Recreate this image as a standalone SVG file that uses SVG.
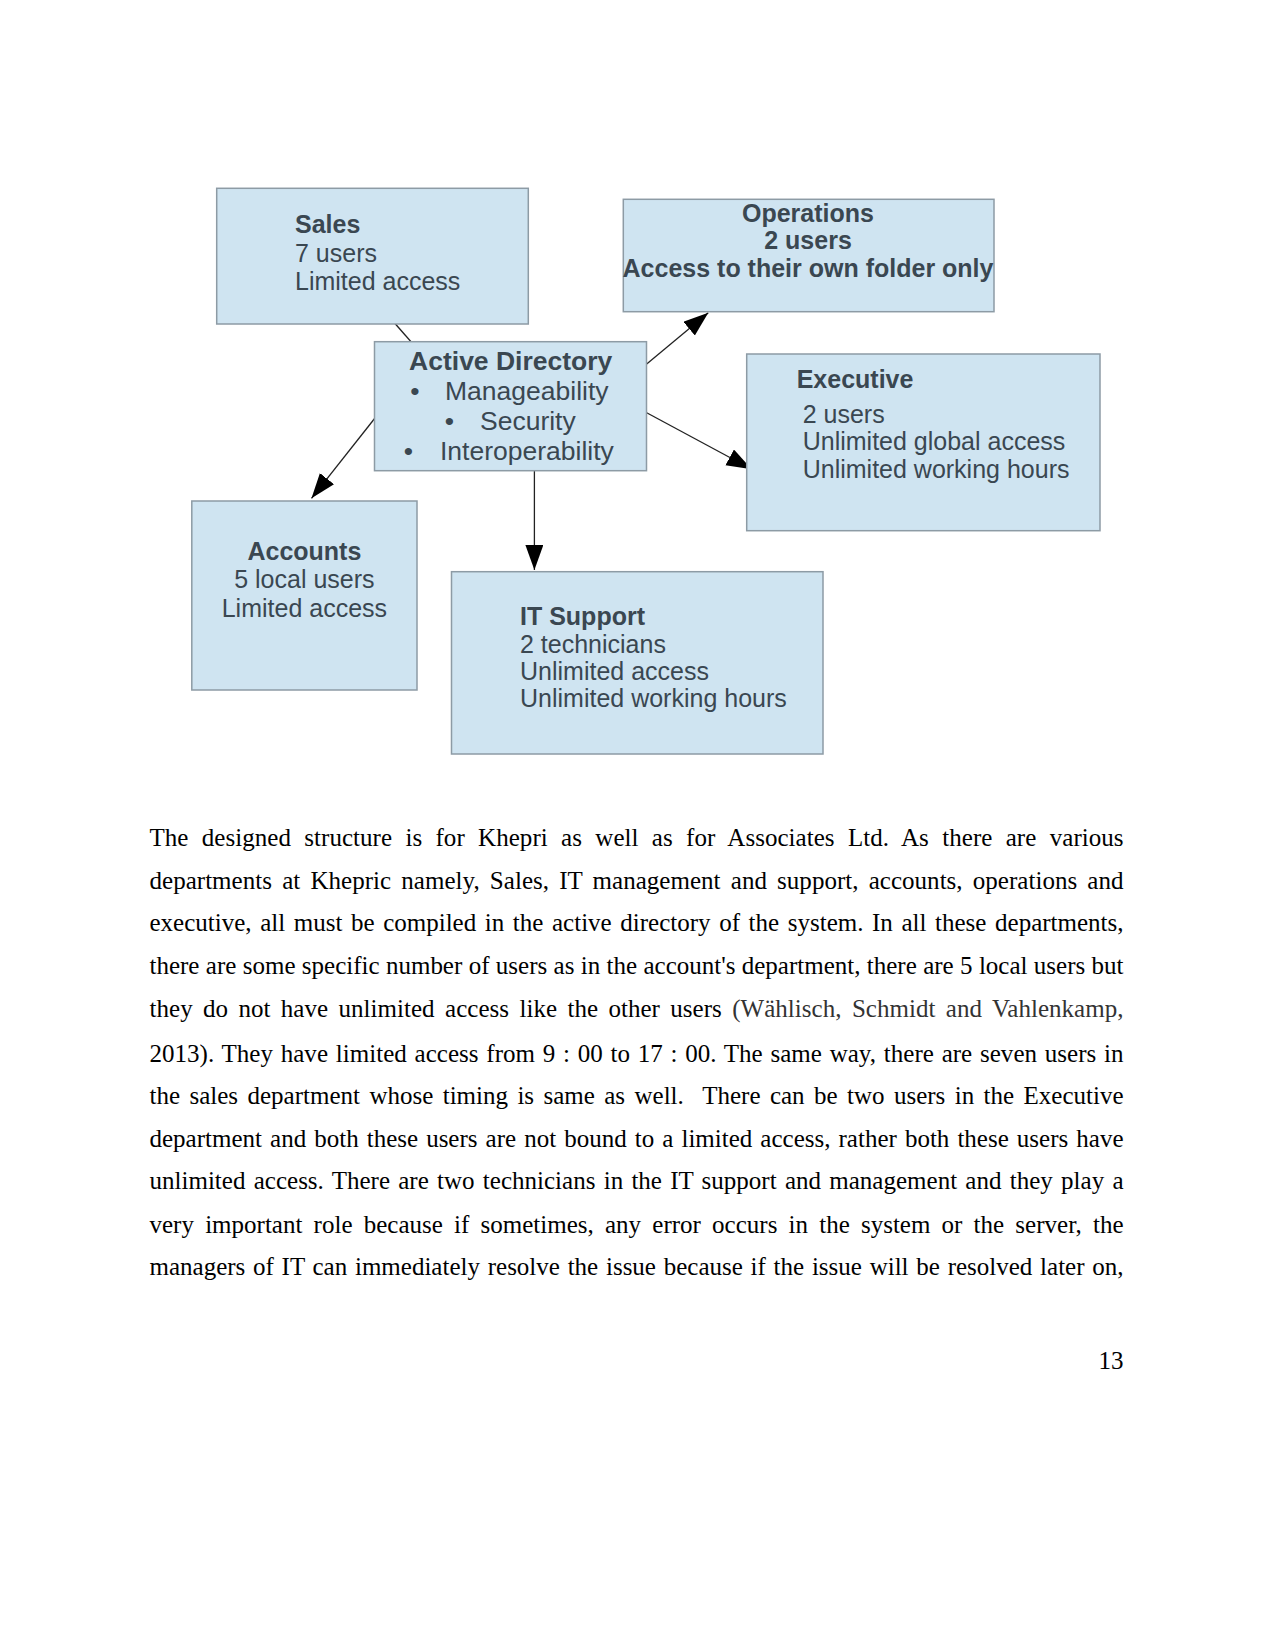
<svg xmlns="http://www.w3.org/2000/svg" width="1275" height="1650" viewBox="0 0 1275 1650">
<style>
.box{fill:#cfe4f1;stroke:#8d9ba5;stroke-width:1.5}
.t{font-family:"Liberation Sans",Arial,sans-serif;fill:#3a4751}
.b{font-weight:bold}
.s25{font-size:25px}
.s26{font-size:26.5px}
.con{stroke:#222;stroke-width:1.3;fill:none}
.p{font-family:"Liberation Serif","Times New Roman",serif;font-size:25px;fill:#000}
</style>
<defs>
<marker id="ah" markerUnits="userSpaceOnUse" markerWidth="28" markerHeight="20" refX="25" refY="9" orient="auto">
<path d="M0,0 L25,9 L0,18 z" fill="#000"/>
</marker>
</defs>
<rect width="1275" height="1650" fill="#fff"/>

<g id="connectors">
<line class="con" x1="395" y1="323.5" x2="411" y2="341.7"/>
<line class="con" x1="646.7" y1="364" x2="708.3" y2="312.7" marker-end="url(#ah)"/>
<line class="con" x1="646.7" y1="412.7" x2="751.7" y2="469.3" marker-end="url(#ah)"/>
<line class="con" x1="375" y1="418" x2="311.5" y2="498.3" marker-end="url(#ah)"/>
<line class="con" x1="534.4" y1="471" x2="534.4" y2="570" marker-end="url(#ah)"/>
</g>

<g id="sales">
<rect class="box" x="216.7" y="188.3" width="311.6" height="135.7"/>
<text class="t s25 b" x="295" y="233.3">Sales</text>
<text class="t s25" x="295" y="261.7">7 users</text>
<text class="t s25" x="295" y="290">Limited access</text>
</g>

<g id="operations">
<rect class="box" x="623.3" y="199.3" width="370.7" height="112.4"/>
<text class="t s25 b" x="808" y="221.7" text-anchor="middle">Operations</text>
<text class="t s25 b" x="808" y="249.3" text-anchor="middle">2 users</text>
<text class="t s25 b" x="808" y="277.3" text-anchor="middle">Access to their own folder only</text>
</g>

<g id="active-directory">
<rect class="box" x="374.5" y="341.7" width="272" height="129"/>
<text class="t s26 b" x="510.7" y="370" text-anchor="middle">Active Directory</text>
<text class="t s26" x="415" y="400" text-anchor="middle">•</text>
<text class="t s26" x="445" y="400">Manageability</text>
<text class="t s26" x="449.3" y="430" text-anchor="middle">•</text>
<text class="t s26" x="480" y="430">Security</text>
<text class="t s26" x="408.3" y="460" text-anchor="middle">•</text>
<text class="t s26" x="440" y="460">Interoperability</text>
</g>

<g id="executive">
<rect class="box" x="746.7" y="354" width="353.3" height="176.7"/>
<text class="t s25 b" x="796.7" y="388.3">Executive</text>
<text class="t s25" x="802.7" y="422.7">2 users</text>
<text class="t s25" x="802.7" y="450">Unlimited global access</text>
<text class="t s25" x="802.7" y="478.3">Unlimited working hours</text>
</g>

<g id="accounts">
<rect class="box" x="191.8" y="501" width="225.2" height="189"/>
<text class="t s25 b" x="304.4" y="560" text-anchor="middle">Accounts</text>
<text class="t s25" x="304.4" y="588.3" text-anchor="middle">5 local users</text>
<text class="t s25" x="304.4" y="616.7" text-anchor="middle">Limited access</text>
</g>

<g id="it-support">
<rect class="box" x="451.5" y="571.7" width="371.5" height="182.3"/>
<text class="t s25 b" x="520" y="625">IT Support</text>
<text class="t s25" x="520" y="652.7">2 technicians</text>
<text class="t s25" x="520" y="680">Unlimited access</text>
<text class="t s25" x="520" y="706.7">Unlimited working hours</text>
</g>

<g id="body-text">
<text class="p" x="149.5" y="845.8" word-spacing="7.07" textLength="974" lengthAdjust="spacing">The designed structure is for Khepri as well as for Associates Ltd. As there are various</text>
<text class="p" x="149.5" y="888.5" word-spacing="3.9" textLength="974" lengthAdjust="spacing">departments at Khepric namely, Sales, IT management and support, accounts, operations and</text>
<text class="p" x="149.5" y="930.8" word-spacing="2.35" textLength="974" lengthAdjust="spacing">executive, all must be compiled in the active directory of the system. In all these departments,</text>
<text class="p" x="149.5" y="974.2" word-spacing="0.1" textLength="974" lengthAdjust="spacing">there are some specific number of users as in the account's department, there are 5 local users but</text>
<text class="p" x="149.5" y="1016.5" word-spacing="4.05" textLength="974" lengthAdjust="spacing">they do not have unlimited access like the other users <tspan fill="#333">(Wählisch, Schmidt and Vahlenkamp,</tspan></text>
<text class="p" x="149.5" y="1061.8" word-spacing="1.45" textLength="974" lengthAdjust="spacing">2013). They have limited access from 9 : 00 to 17 : 00. The same way, there are seven users in</text>
<text class="p" x="149.5" y="1104.2" word-spacing="3.14" textLength="974" lengthAdjust="spacing">the sales department whose timing is same as well.&#160; There can be two users in the Executive</text>
<text class="p" x="149.5" y="1146.5" word-spacing="1.82" textLength="974" lengthAdjust="spacing">department and both these users are not bound to a limited access, rather both these users have</text>
<text class="p" x="149.5" y="1189.2" word-spacing="1.98" textLength="974" lengthAdjust="spacing">unlimited access. There are two technicians in the IT support and management and they play a</text>
<text class="p" x="149.5" y="1232.5" word-spacing="4.9" textLength="974" lengthAdjust="spacing">very important role because if sometimes, any error occurs in the system or the server, the</text>
<text class="p" x="149.5" y="1275.2" word-spacing="1.47" textLength="974" lengthAdjust="spacing">managers of IT can immediately resolve the issue because if the issue will be resolved later on,</text>
<text class="p" x="1123.6" y="1368.9" text-anchor="end">13</text>
</g>
</svg>
